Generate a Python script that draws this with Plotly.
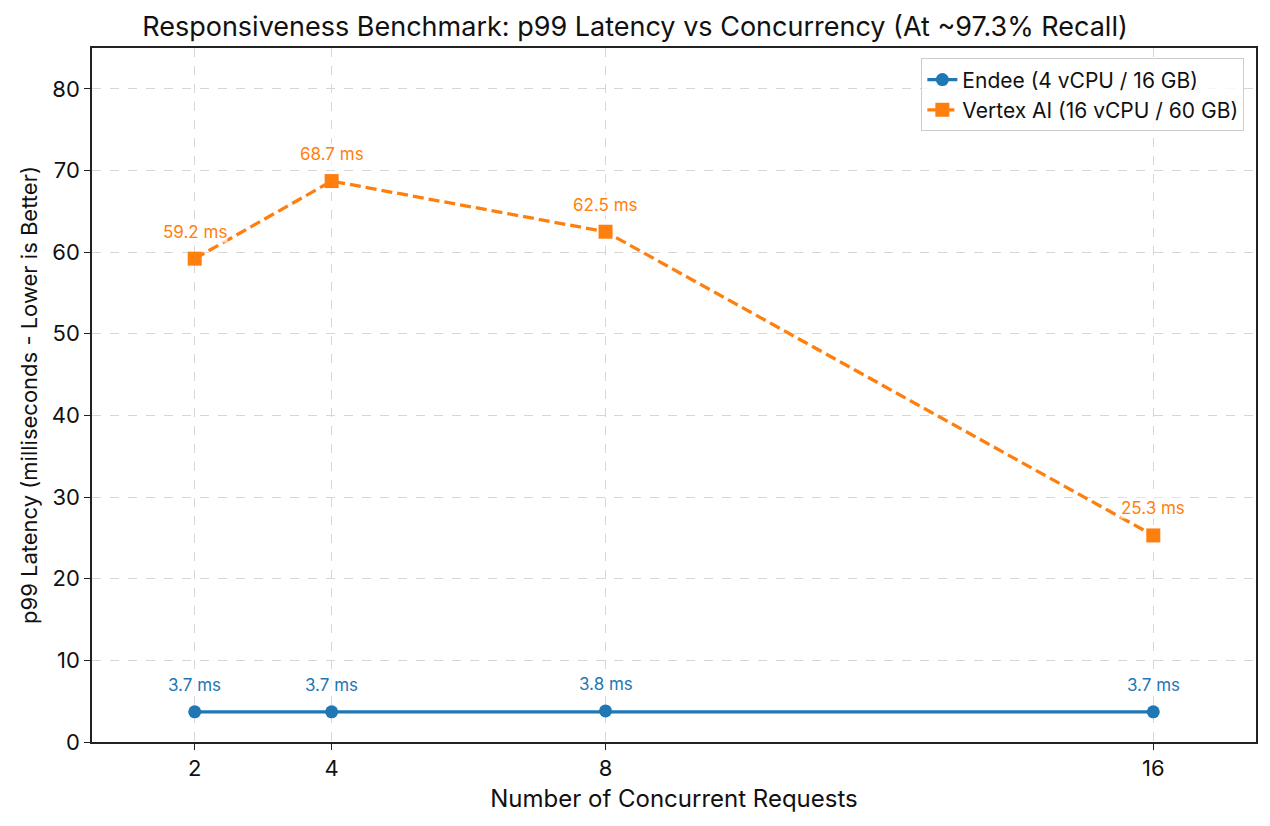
import plotly.graph_objects as go

concurrency = [2, 4, 8, 16]
endee_p99 = [3.7, 3.7, 3.8, 3.7]
vertex_p99 = [59.2, 68.7, 62.5, 25.3]
endee_name = "Endee (4 vCPU / 16 GB)"
vertex_name = "Vertex AI (16 vCPU / 60 GB)"
blue = "#1f77b4"
orange = "#ff7f0e"
FONT = "Inter"

fig = go.Figure()
fig.add_trace(go.Scatter(
    x=concurrency, y=endee_p99, name=endee_name, mode="lines+markers",
    line=dict(color=blue, width=3.3),
    marker=dict(symbol="circle", size=13, color=blue)))
fig.add_trace(go.Scatter(
    x=concurrency, y=vertex_p99, name=vertex_name, mode="lines+markers",
    line=dict(color=orange, width=3.3, dash="11px,5px"),
    marker=dict(symbol="square", size=14, color=orange)))

for xs, ys, c in [(concurrency, endee_p99, blue), (concurrency, vertex_p99, orange)]:
    for x, y in zip(xs, ys):
        fig.add_annotation(x=x, y=y, text=f"{y:.1f} ms", showarrow=False,
                           yshift=27, font=dict(family=FONT, size=17, color=c),
                           bgcolor="rgba(255,255,255,0.7)", borderpad=0)

axis_common = dict(
    showline=True, linecolor="#222222", linewidth=1.5, mirror=True,
    ticks="outside", ticklen=6, tickwidth=1.3, tickcolor="#222222",
    showgrid=True, gridcolor="#d6d6d6", griddash="dash", gridwidth=1,
    zeroline=False, tickfont=dict(family=FONT, size=22, color="#111111"),
)
fig.update_xaxes(range=[0.5, 17.5], tickvals=concurrency, ticktext=[str(v) for v in concurrency],
                 title=dict(text="Number of Concurrent Requests", font=dict(family=FONT, size=24, color="#111111"), standoff=10),
                 **axis_common)
fig.update_yaxes(range=[0, 85], tickvals=list(range(0, 90, 10)),
                 title=dict(text="p99 Latency (milliseconds - Lower is Better)", font=dict(family=FONT, size=22, color="#111111"), standoff=8),
                 **axis_common)

fig.update_layout(
    width=1270, height=826,
    margin=dict(l=92, r=14, t=48, b=84),
    paper_bgcolor="white", plot_bgcolor="white",
    title=dict(text="Responsiveness Benchmark: p99 Latency vs Concurrency (At ~97.3% Recall)",
               x=0.5, xanchor="center", y=0.968, yanchor="middle",
               font=dict(family=FONT, size=27, color="#111111")),
    legend=dict(x=0.99, y=0.985, xanchor="right", yanchor="top",
                bgcolor="rgba(255,255,255,0.8)", bordercolor="#cccccc", borderwidth=1,
                font=dict(family=FONT, size=21, color="#111111")),
    showlegend=True,
)
fig.write_html("out.html")
